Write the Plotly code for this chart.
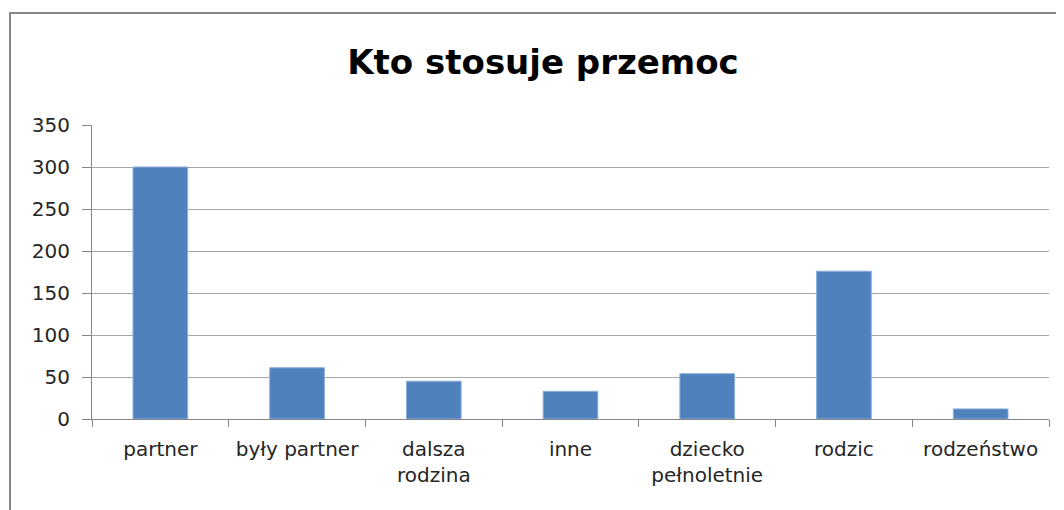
import plotly.graph_objects as go

categories = ["partner", "były partner", "dalsza<br>rodzina", "inne",
              "dziecko<br>pełnoletnie", "rodzic", "rodzeństwo"]
values = [300, 61, 45, 33, 54, 176, 12]
y_ticks = [0, 50, 100, 150, 200, 250, 300, 350]
title_text = "Kto stosuje przemoc"

OFF = 8  # page body margin
W, H = 1056, 502
L, R, T, B = 84, 15, 117, 91
pw, ph = W - L - R, H - T - B

def px_x(p):
    return (p - OFF - L) / pw

def px_y(p):
    return (H - B - (p - OFF)) / ph

fig = go.Figure(go.Bar(
    x=categories, y=values,
    marker=dict(color="#4F81BD", line=dict(color="#8DB0DC", width=1)),
))

fig.update_layout(
    width=W, height=H,
    margin=dict(l=L, r=R, t=T, b=B),
    paper_bgcolor="white", plot_bgcolor="white",
    bargap=0.6,
    showlegend=False,
    font=dict(family="DejaVu Sans", color="#262626"),
    title=dict(text="<b>" + title_text + "</b>", xref="paper", x=px_x(543),
               xanchor="center", yref="container", y=1 - (62 - OFF) / H, yanchor="middle",
               font=dict(family="DejaVu Sans", size=34, color="black")),
    xaxis=dict(showline=True, linecolor="#868686", linewidth=1,
               ticks="outside", ticklen=7, tickcolor="#868686", tickson="boundaries",
               tickfont=dict(size=20, color="#262626"), showgrid=False,
               ticklabelstandoff=12),
    yaxis=dict(range=[0, 350], tickvals=y_ticks, showline=True, linecolor="#868686",
               linewidth=1, ticks="outside", ticklen=9, tickcolor="#868686",
               showgrid=True, gridcolor="#A6A6A6", gridwidth=1,
               tickfont=dict(size=20, color="#262626"), zeroline=False,
               ticklabelstandoff=8),
    shapes=[dict(type="rect", xref="paper", yref="paper",
                 x0=px_x(10), x1=px_x(1100), y0=px_y(560), y1=px_y(13),
                 line=dict(color="#868686", width=2), fillcolor="rgba(0,0,0,0)",
                 layer="below")],
)

fig.write_html("out.html")
